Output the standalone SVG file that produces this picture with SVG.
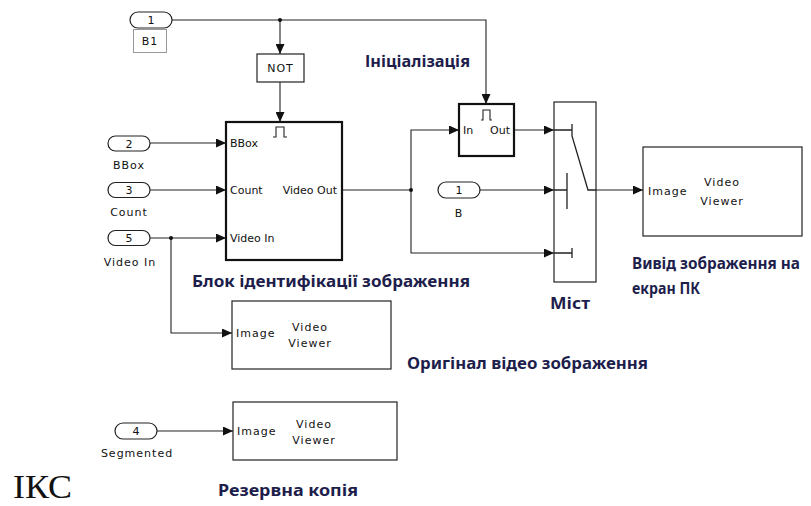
<svg xmlns="http://www.w3.org/2000/svg" width="811" height="506" viewBox="0 0 811 506">
  <style>
    .blk { fill: #fff; stroke: #222; stroke-width: 1.2; }
    .thick { fill: #fff; stroke: #111; stroke-width: 2.2; }
    .port { fill: #fff; stroke: #222; stroke-width: 1.2; }
    .wire { fill: none; stroke: #222; stroke-width: 1.1; }
    .sw { fill: none; stroke: #222; stroke-width: 1.3; }
    .t { font-family: "DejaVu Sans", sans-serif; font-size: 11px; fill: #111; }
    .ts { font-family: "DejaVu Sans", sans-serif; font-size: 11px; fill: #111; letter-spacing: 1px; }
    .lbl { font-family: "Noto Sans", "Open Sans", sans-serif; font-weight: bold; font-size: 15.5px; fill: #1e1e4c; }
  </style>
  <defs>
    <marker id="arr" markerUnits="userSpaceOnUse" markerWidth="10" markerHeight="9" viewBox="0 0 10 9" refX="10" refY="4.5" orient="auto">
      <path d="M0,0 L10,4.5 L0,9 z" fill="#111"/>
    </marker>
  </defs>

  <!-- signal lines -->
  <g id="connectors">
    <path class="wire" d="M172,20 H486 V104" marker-end="url(#arr)"/>
    <path class="wire" d="M280,20 V54" marker-end="url(#arr)"/>
    <path class="wire" d="M280,82 V122" marker-end="url(#arr)"/>
    <path class="wire" d="M150,143 H226" marker-end="url(#arr)"/>
    <path class="wire" d="M150,190 H226" marker-end="url(#arr)"/>
    <path class="wire" d="M150,238 H226" marker-end="url(#arr)"/>
    <path class="wire" d="M171,238 V333 H232" marker-end="url(#arr)"/>
    <path class="wire" d="M342,190 H411"/>
    <path class="wire" d="M411,190 V130 H459" marker-end="url(#arr)"/>
    <path class="wire" d="M411,190 V253 H554" marker-end="url(#arr)"/>
    <path class="wire" d="M514,130 H554" marker-end="url(#arr)"/>
    <path class="wire" d="M480,190 H554" marker-end="url(#arr)"/>
    <path class="wire" d="M596,190 H643" marker-end="url(#arr)"/>
    <path class="wire" d="M157,431 H233" marker-end="url(#arr)"/>
    <circle cx="280" cy="20" r="2" fill="#111"/>
    <circle cx="171" cy="238" r="2" fill="#111"/>
    <circle cx="411" cy="190" r="2" fill="#111"/>
  </g>

  <!-- inports -->
  <g id="in1">
    <rect class="port" x="130" y="12" width="42" height="16" rx="8"/>
    <text class="t" x="151" y="24" text-anchor="middle">1</text>
    <rect x="133.5" y="29.5" width="33" height="23" fill="#fff" stroke="#999" stroke-width="1"/>
    <text class="ts" x="150" y="45" text-anchor="middle">B1</text>
  </g>
  <g id="in2">
    <rect class="port" x="108" y="136" width="42" height="15" rx="7.5"/>
    <text class="t" x="129" y="147.5" text-anchor="middle">2</text>
    <text class="ts" x="129" y="169" text-anchor="middle">BBox</text>
  </g>
  <g id="in3">
    <rect class="port" x="108" y="182.5" width="42" height="15" rx="7.5"/>
    <text class="t" x="129" y="194" text-anchor="middle">3</text>
    <text class="ts" x="129" y="216" text-anchor="middle">Count</text>
  </g>
  <g id="in5">
    <rect class="port" x="108" y="230.5" width="42" height="15" rx="7.5"/>
    <text class="t" x="129" y="242" text-anchor="middle">5</text>
    <text class="ts" x="130" y="266" text-anchor="middle">Video In</text>
  </g>
  <g id="inB">
    <rect class="port" x="438" y="182" width="42" height="16" rx="8"/>
    <text class="t" x="459" y="194" text-anchor="middle">1</text>
    <text class="ts" x="459" y="217" text-anchor="middle">B</text>
  </g>
  <g id="in4">
    <rect class="port" x="115" y="423" width="42" height="16" rx="8"/>
    <text class="t" x="136" y="435" text-anchor="middle">4</text>
    <text class="ts" x="137" y="457" text-anchor="middle">Segmented</text>
  </g>

  <!-- logic NOT -->
  <g id="not">
    <rect class="blk" x="257" y="54" width="47" height="28"/>
    <text class="ts" x="280.5" y="72" text-anchor="middle">NOT</text>
  </g>

  <!-- identification subsystem -->
  <g id="ident">
    <rect class="thick" x="226" y="122" width="116" height="138"/>
    <path class="wire" d="M273,137 H276 V127 H284 V137 H287"/>
    <text class="t" x="230" y="147">BBox</text>
    <text class="t" x="230" y="194">Count</text>
    <text class="t" x="337" y="194" text-anchor="end">Video Out</text>
    <text class="t" x="230" y="242">Video In</text>
  </g>

  <!-- triggered initialisation block -->
  <g id="init">
    <rect class="thick" x="459" y="104" width="55" height="52"/>
    <path class="wire" d="M481,120 H483 V110 H490 V120 H492"/>
    <text class="t" x="463" y="134">In</text>
    <text class="t" x="510" y="134" text-anchor="end">Out</text>
  </g>

  <!-- multiport switch -->
  <g id="switch">
    <rect class="blk" x="554" y="102" width="42" height="180"/>
    <path class="sw" d="M554,130 H572 M572,124 V136 L588,190 H596"/>
    <path class="sw" d="M554,190 H567 M567,173 V209"/>
    <path class="sw" d="M554,253 H572 M572,248 V258"/>
  </g>

  <!-- video viewers -->
  <g id="viewer_out">
    <rect class="blk" x="643" y="147" width="159" height="89"/>
    <text class="ts" x="648" y="195">Image</text>
    <text class="ts" x="722" y="186" text-anchor="middle">Video</text>
    <text class="ts" x="722" y="205" text-anchor="middle">Viewer</text>
  </g>
  <g id="viewer_orig">
    <rect class="blk" x="232" y="301" width="159" height="68"/>
    <text class="ts" x="236" y="337">Image</text>
    <text class="ts" x="310" y="331" text-anchor="middle">Video</text>
    <text class="ts" x="310" y="347" text-anchor="middle">Viewer</text>
  </g>
  <g id="viewer_backup">
    <rect class="blk" x="233" y="402" width="164" height="58"/>
    <text class="ts" x="237" y="435">Image</text>
    <text class="ts" x="314" y="428" text-anchor="middle">Video</text>
    <text class="ts" x="314" y="444" text-anchor="middle">Viewer</text>
  </g>

  <!-- captions -->
  <g id="captions">
    <text class="lbl" x="365" y="67" textLength="105" lengthAdjust="spacingAndGlyphs">Ініціалізація</text>
    <text class="lbl" x="192" y="287" textLength="278" lengthAdjust="spacingAndGlyphs">Блок ідентифікації зображення</text>
    <text class="lbl" x="632" y="269" textLength="168" lengthAdjust="spacingAndGlyphs">Вивід зображення на</text>
    <text class="lbl" x="632" y="294" textLength="68" lengthAdjust="spacingAndGlyphs">екран ПК</text>
    <text class="lbl" x="550" y="309" textLength="40" lengthAdjust="spacingAndGlyphs">Міст</text>
    <text class="lbl" x="407" y="369" textLength="241" lengthAdjust="spacingAndGlyphs">Оригінал відео зображення</text>
    <text class="lbl" x="218" y="496" textLength="140" lengthAdjust="spacingAndGlyphs">Резервна копія</text>
    <text x="13" y="498" font-family="Liberation Serif, serif" font-size="33" fill="#111" textLength="59" lengthAdjust="spacingAndGlyphs">ІКС</text>
  </g>
</svg>
